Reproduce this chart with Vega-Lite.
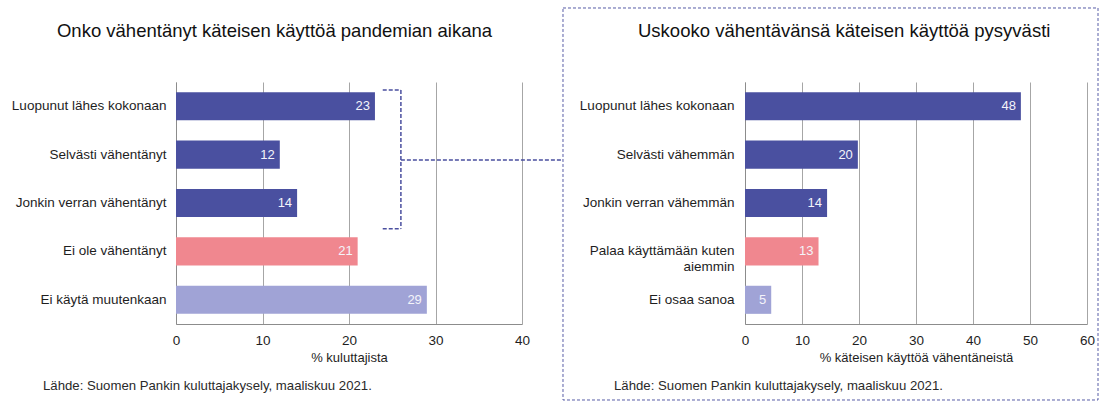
{
  "$schema": "https://vega.github.io/schema/vega-lite/v6.json",
  "background": "white",
  "padding": {"left": 11, "top": 7, "right": 0, "bottom": 0},
  "config": {"font": "Liberation Sans", "view": {"stroke": null}},
  "datasets": {
    "pandemia": [
      {"category": "Luopunut lähes kokonaan", "value": 23, "kind": "reduced"},
      {"category": "Selvästi vähentänyt", "value": 12, "kind": "reduced"},
      {"category": "Jonkin verran vähentänyt", "value": 14, "kind": "reduced"},
      {"category": "Ei ole vähentänyt", "value": 21, "kind": "same"},
      {"category": "Ei käytä muutenkaan", "value": 29, "kind": "other"}
    ],
    "pysyvasti": [
      {"category": "Luopunut lähes kokonaan", "value": 48.4, "kind": "reduced"},
      {"category": "Selvästi vähemmän", "value": 19.8, "kind": "reduced"},
      {"category": "Jonkin verran vähemmän", "value": 14.4, "kind": "reduced"},
      {"category": "Palaa käyttämään kuten aiemmin", "value": 12.9, "kind": "same"},
      {"category": "Ei osaa sanoa", "value": 4.6, "kind": "other"}
    ]
  },
  "spacing": 223,
  "bounds": "flush",
  "hconcat": [
    {
      "width": 346,
      "height": 242,
      "resolve": {"scale": {"y": "independent"}, "axis": {"y": "independent"}},
      "layer": [
        {
          "data": {"name": "pandemia"},
          "layer": [
            {
              "mark": {"type": "bar"},
              "encoding": {
                "y": {"field": "category", "type": "nominal", "sort": null,
                  "scale": {"paddingInner": 0.42, "paddingOuter": 0.21},
                  "axis": {"title": null, "labelFontSize": 13.5, "labelColor": "#1e1e1e", "labelPadding": 10, "ticks": false, "tickSize": 0, "domainColor": "#8c8c8c", "labelLimit": 300}},
                "x": {"field": "value", "type": "quantitative",
                  "scale": {"domain": [0, 40], "nice": false},
                  "axis": {"values": [0, 10, 20, 30, 40], "title": "% kuluttajista", "titleFontSize": 13, "titleFontWeight": "normal", "titleColor": "#1e1e1e", "titlePadding": 5, "labelFontSize": 13.5, "labelColor": "#1e1e1e", "labelPadding": 9, "labelFlush": false, "ticks": false, "tickSize": 0, "grid": true, "gridColor": "#a6a6a6", "domainColor": "#8c8c8c"}},
                "color": {"field": "kind", "type": "nominal",
                  "scale": {"domain": ["reduced", "same", "other"], "range": ["#4a50a0", "#f0878f", "#a0a3d6"]},
                  "legend": null}
              }
            },
            {
              "mark": {"type": "text", "align": "right", "baseline": "middle", "dx": -5, "fontSize": 13, "color": "#f4f4fa"},
              "encoding": {
                "y": {"field": "category", "type": "nominal", "sort": null},
                "x": {"field": "value", "type": "quantitative"},
                "text": {"field": "value", "type": "quantitative", "format": ".0f"}
              }
            }
          ]
        },
        {
          "data": {"values": [{}]},
          "mark": {"type": "rule", "color": "#4a4f9f", "strokeWidth": 1.5, "strokeDash": [4, 2]},
          "encoding": {
            "x": {"datum": 23.9, "type": "quantitative", "scale": {"domain": [0, 40], "nice": false}},
            "x2": {"datum": 26.0},
            "y": {"datum": 0.967, "type": "quantitative", "scale": {"domain": [0, 1], "nice": false, "zero": false}, "axis": null}
          }
        },
        {
          "data": {"values": [{}]},
          "mark": {"type": "rule", "color": "#4a4f9f", "strokeWidth": 1.5, "strokeDash": [4, 2]},
          "encoding": {
            "x": {"datum": 26.0, "type": "quantitative", "scale": {"domain": [0, 40], "nice": false}},
            "y": {"datum": 0.967, "type": "quantitative", "scale": {"domain": [0, 1], "nice": false, "zero": false}, "axis": null},
            "y2": {"datum": 0.394}
          }
        },
        {
          "data": {"values": [{}]},
          "mark": {"type": "rule", "color": "#4a4f9f", "strokeWidth": 1.5, "strokeDash": [4, 2]},
          "encoding": {
            "x": {"datum": 23.9, "type": "quantitative", "scale": {"domain": [0, 40], "nice": false}},
            "x2": {"datum": 26.0},
            "y": {"datum": 0.394, "type": "quantitative", "scale": {"domain": [0, 1], "nice": false, "zero": false}, "axis": null}
          }
        },
        {
          "data": {"values": [{}]},
          "mark": {"type": "rule", "color": "#4a4f9f", "strokeWidth": 1.5, "strokeDash": [4, 2]},
          "encoding": {
            "x": {"datum": 26.0, "type": "quantitative", "scale": {"domain": [0, 40], "nice": false}},
            "x2": {"datum": 44.74},
            "y": {"datum": 0.678, "type": "quantitative", "scale": {"domain": [0, 1], "nice": false, "zero": false}, "axis": null}
          }
        },
        {
          "data": {"values": [{}]},
          "mark": {"type": "text", "align": "left", "baseline": "middle", "fontSize": 18.5, "color": "#111111", "text": "Onko vähentänyt käteisen käyttöä pandemian aikana"},
          "encoding": {
            "x": {"datum": -13.76, "type": "quantitative", "scale": {"domain": [0, 40], "nice": false}},
            "y": {"datum": 1.2107, "type": "quantitative", "scale": {"domain": [0, 1], "nice": false, "zero": false}, "axis": null}
          }
        },
        {
          "data": {"values": [{}]},
          "mark": {"type": "text", "align": "left", "baseline": "middle", "fontSize": 13.2, "color": "#2a2a2a", "text": "Lähde: Suomen Pankin kuluttajakysely, maaliskuu 2021."},
          "encoding": {
            "x": {"datum": -15.38, "type": "quantitative", "scale": {"domain": [0, 40], "nice": false}},
            "y": {"datum": -0.256, "type": "quantitative", "scale": {"domain": [0, 1], "nice": false, "zero": false}, "axis": null}
          }
        }
      ]
    },
    {
      "width": 342,
      "height": 242,
      "resolve": {"scale": {"y": "independent"}, "axis": {"y": "independent"}},
      "layer": [
        {
          "data": {"name": "pysyvasti"},
          "layer": [
            {
              "mark": {"type": "bar"},
              "encoding": {
                "y": {"field": "category", "type": "nominal", "sort": null,
                  "scale": {"paddingInner": 0.42, "paddingOuter": 0.21},
                  "axis": {"title": null, "labelFontSize": 13.5, "labelColor": "#1e1e1e", "labelPadding": 11, "ticks": false, "tickSize": 0, "domainColor": "#8c8c8c", "labelLimit": 300, "labelLineHeight": 16,
                    "labelExpr": "datum.value == 'Palaa käyttämään kuten aiemmin' ? ['Palaa käyttämään kuten', 'aiemmin\u00a0\u00a0\u00a0\u00a0\u00a0\u00a0\u00a0\u00a0\u00a0\u00a0\u00a0\u00a0'] : datum.value"}},
                "x": {"field": "value", "type": "quantitative",
                  "scale": {"domain": [0, 60], "nice": false},
                  "axis": {"values": [0, 10, 20, 30, 40, 50, 60], "title": "% käteisen käyttöä vähentäneistä", "titleFontSize": 13, "titleFontWeight": "normal", "titleColor": "#1e1e1e", "titlePadding": 5, "labelFontSize": 13.5, "labelColor": "#1e1e1e", "labelPadding": 9, "labelFlush": false, "ticks": false, "tickSize": 0, "grid": true, "gridColor": "#a6a6a6", "domainColor": "#8c8c8c"}},
                "color": {"field": "kind", "type": "nominal",
                  "scale": {"domain": ["reduced", "same", "other"], "range": ["#4a50a0", "#f0878f", "#a0a3d6"]},
                  "legend": null}
              }
            },
            {
              "mark": {"type": "text", "align": "right", "baseline": "middle", "dx": -5, "fontSize": 13, "color": "#f4f4fa"},
              "encoding": {
                "y": {"field": "category", "type": "nominal", "sort": null},
                "x": {"field": "value", "type": "quantitative"},
                "text": {"field": "value", "type": "quantitative", "format": ".0f"}
              }
            }
          ]
        },
        {
          "data": {"values": [{}]},
          "mark": {"type": "rect", "filled": false, "color": "#575ca6", "strokeWidth": 1, "strokeDash": [3, 2]},
          "encoding": {
            "x": {"datum": -31.93, "type": "quantitative", "scale": {"domain": [0, 60], "nice": false}},
            "x2": {"datum": 61.93},
            "y": {"datum": 1.3058, "type": "quantitative", "scale": {"domain": [0, 1], "nice": false, "zero": false}, "axis": null},
            "y2": {"datum": -0.314}
          }
        },
        {
          "data": {"values": [{}]},
          "mark": {"type": "text", "align": "left", "baseline": "middle", "fontSize": 18.5, "color": "#111111", "text": "Uskooko vähentävänsä käteisen käyttöä pysyvästi"},
          "encoding": {
            "x": {"datum": -18.77, "type": "quantitative", "scale": {"domain": [0, 60], "nice": false}},
            "y": {"datum": 1.2107, "type": "quantitative", "scale": {"domain": [0, 1], "nice": false, "zero": false}, "axis": null}
          }
        },
        {
          "data": {"values": [{}]},
          "mark": {"type": "text", "align": "left", "baseline": "middle", "fontSize": 13.2, "color": "#2a2a2a", "text": "Lähde: Suomen Pankin kuluttajakysely, maaliskuu 2021."},
          "encoding": {
            "x": {"datum": -22.98, "type": "quantitative", "scale": {"domain": [0, 60], "nice": false}},
            "y": {"datum": -0.256, "type": "quantitative", "scale": {"domain": [0, 1], "nice": false, "zero": false}, "axis": null}
          }
        }
      ]
    }
  ]
}
